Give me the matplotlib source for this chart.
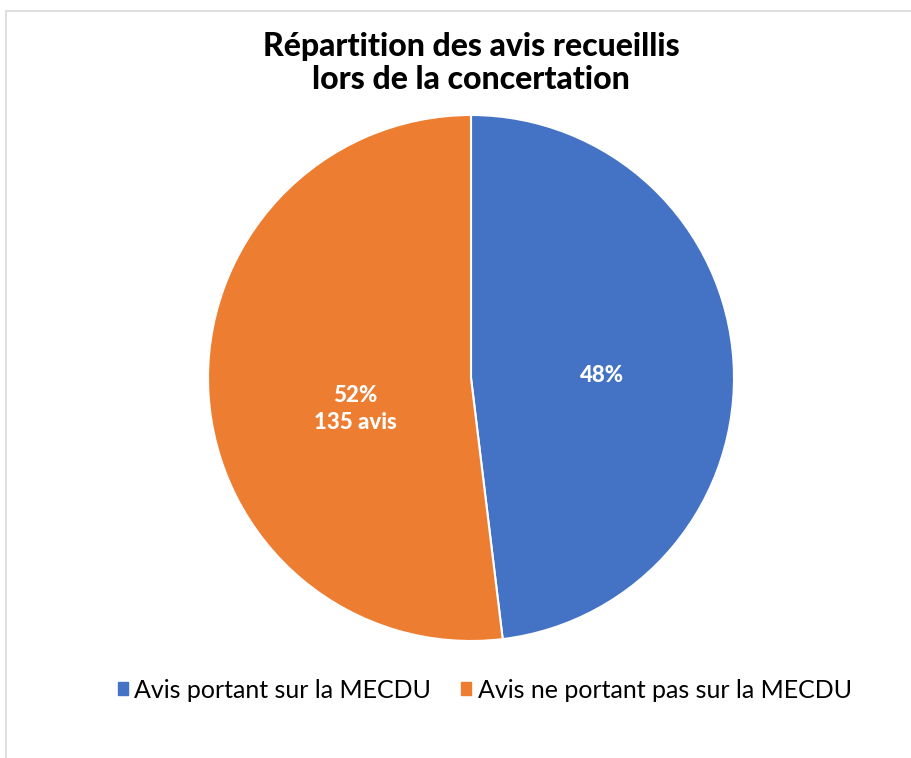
import matplotlib
matplotlib.use("Agg")
import matplotlib.pyplot as plt
import numpy as np

categories = ["Avis portant sur la MECDU", "Avis ne portant pas sur la MECDU"]
counts = [125, 135]
pct_labels = ["48%", "52%\n135 avis"]
colors = ["#4472C4", "#ED7D31"]
title = "Répartition des avis recueillis\nlors de la concertation"

plt.rcParams['font.family'] = ['Lato', 'DejaVu Sans']

fig = plt.figure(figsize=(9.12, 7.58), dpi=100)
# light border of the chart area
fig.patches.append(plt.Rectangle((6/912, -0.05), 1.2, 1 - 11/758 + 0.05, transform=fig.transFigure,
                                 fill=False, edgecolor="#D9D9D9", linewidth=1.2))

ax = fig.add_axes([(471-263)/912, 1-(378+263)/758, 526/912, 526/758])
wedges, _ = ax.pie(counts, colors=colors, startangle=90, counterclock=False,
                   wedgeprops=dict(edgecolor="white", linewidth=1.5), radius=1.0)
ax.set_xlim(-1, 1); ax.set_ylim(-1, 1)
ax.set_aspect('equal')

# data labels
offsets = [(0.0, -0.02), (0.02, -0.09)]
radii = [0.5, 0.46]
for w, lab, r, off in zip(wedges, pct_labels, radii, offsets):
    ang = np.deg2rad((w.theta1 + w.theta2) / 2)
    ax.text(r*np.cos(ang) + off[0], r*np.sin(ang) + off[1], lab, ha="center", va="center",
            color="white", fontsize=16, fontweight="black", linespacing=1.3)

fig.text(471/912, 1-63/758, title, ha="center", va="center", fontsize=23,
         fontweight="black", linespacing=1.15)

handles = [plt.Rectangle((0, 0), 1, 1, color=c) for c in colors]
fig.legend(handles, categories, loc="center", bbox_to_anchor=(485/912, 1-690/758),
           ncol=2, frameon=False, fontsize=18, handlelength=0.4, handleheight=0.4,
           handletextpad=0.25, columnspacing=1.2)

fig.savefig("out.png", dpi=100)
